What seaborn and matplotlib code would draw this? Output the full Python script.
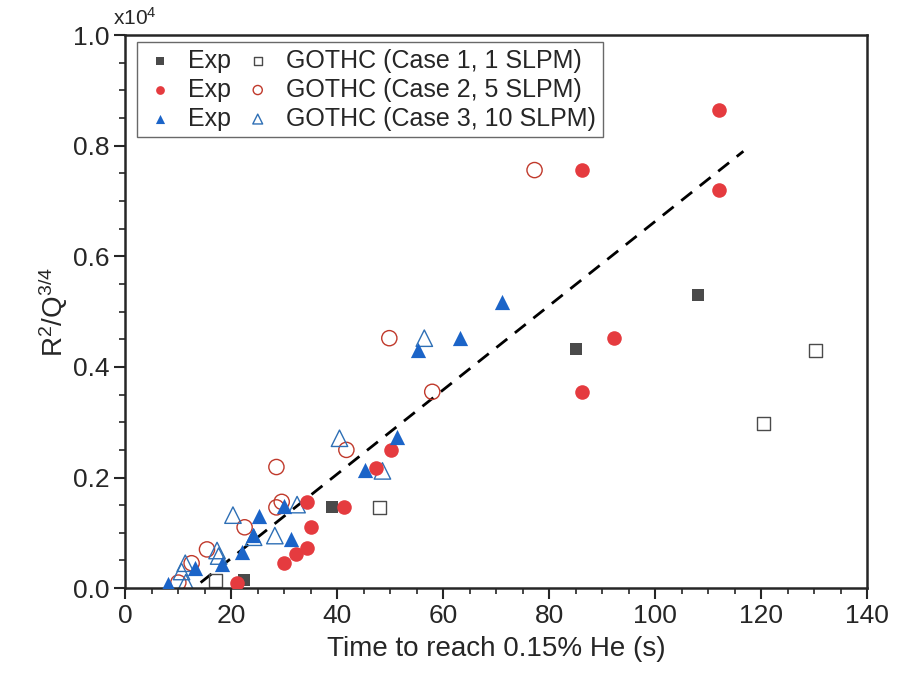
import numpy as np
import pandas as pd
import matplotlib
matplotlib.use('Agg')
import matplotlib.pyplot as plt
import seaborn as sns

# Case 1 (1 SLPM)
case1_exp_t = [22.3, 39, 85, 108]
case1_exp_r = [0.014, 0.147, 0.432, 0.53]
case1_sim_t = [17, 48, 120.4, 130.2]
case1_sim_r = [0.014, 0.146, 0.297, 0.43]

# Case 2 (5 SLPM)
case2_exp_t = [21, 30, 32.2, 34.3, 35.1, 34.2, 41.2, 47.2, 50.2, 86.2, 86.2, 92.1, 112, 112]
case2_exp_r = [0.009, 0.045, 0.061, 0.072, 0.11, 0.156, 0.146, 0.217, 0.25, 0.756, 0.354, 0.452, 0.864, 0.72]
case2_sim_t = [10, 12.5, 15.4, 22.5, 28.5, 29.5, 28.5, 41.7, 49.8, 57.9, 77.2]
case2_sim_r = [0.01, 0.045, 0.07, 0.11, 0.146, 0.156, 0.219, 0.25, 0.452, 0.355, 0.756]

# Case 3 (10 SLPM)
case3_exp_t = [8.1, 13.2, 18.3, 22.1, 24, 25.2, 30, 31.2, 45.3, 51.3, 55.3, 63.2, 71]
case3_exp_r = [0.008, 0.036, 0.044, 0.066, 0.096, 0.131, 0.148, 0.089, 0.213, 0.273, 0.43, 0.452, 0.517]
case3_sim_t = [11.4, 10.6, 11.3, 17.3, 17.6, 20.3, 24.2, 28.2, 32.4, 40.4, 48.5, 56.4]
case3_sim_r = [0.01, 0.03, 0.045, 0.068, 0.058, 0.132, 0.092, 0.095, 0.151, 0.271, 0.212, 0.452]

# dashed fit line (end points)
fit_t = [14.2, 116.6]
fit_r = [0.01, 0.79]

sns.set_style('ticks')
plt.rcParams['font.family'] = ['Liberation Sans', 'DejaVu Sans']
plt.rcParams['mathtext.default'] = 'regular'

fig, ax = plt.subplots(figsize=(9.15, 6.76), dpi=100)
fig.subplots_adjust(left=0.137, right=0.948, bottom=0.130, top=0.948)

gray = '#4a4a4a'
red = '#e53b3f'
blue = '#1b64c8'

sns.lineplot(x=fit_t, y=fit_r, ax=ax, color='black', lw=2, zorder=1)
ax.lines[0].set_dashes([5, 3.5])

exp_sets = [
    (case1_exp_t, case1_exp_r, 's', gray, 80),
    (case2_exp_t, case2_exp_r, 'o', red, 110),
    (case3_exp_t, case3_exp_r, '^', blue, 120),
]
sim_sets = [
    (case1_sim_t, case1_sim_r, 's', gray, 90, 'GOTHC (Case 1, 1 SLPM)'),
    (case2_sim_t, case2_sim_r, 'o', '#c0392b', 120, 'GOTHC (Case 2, 5 SLPM)'),
    (case3_sim_t, case3_sim_r, '^', '#2e6fb5', 140, 'GOTHC (Case 3, 10 SLPM)'),
]

handles = []
for t, r, m, c, s in exp_sets:
    sns.scatterplot(x=t, y=r, ax=ax, marker=m, color=c, s=s, linewidth=0, zorder=3)
    handles.append(ax.collections[-1])
sim_handles = []
for t, r, m, c, s, lab in sim_sets:
    sns.scatterplot(x=t, y=r, ax=ax, marker=m, s=s, facecolor='none', edgecolor=c,
                    linewidth=1.0, zorder=2)
    sim_handles.append(ax.collections[-1])

labels = ['Exp'] * 3 + [x[5] for x in sim_sets]
leg = ax.legend(handles + sim_handles, labels, ncol=2, loc='upper left',
                bbox_to_anchor=(0.016, 0.987), borderaxespad=0, fontsize=18, frameon=True,
                fancybox=False, edgecolor='#444444', markerscale=0.6, handletextpad=0.5,
                columnspacing=0.4, labelspacing=0.2, borderpad=0.25, handlelength=1.3)
leg.get_frame().set_linewidth(1.0)

ax.set_xlim(0, 140)
ax.set_ylim(0, 1.0)
ax.set_xticks(np.arange(0, 141, 20))
ax.set_yticks(np.arange(0, 1.01, 0.2))
ax.set_xticks(np.arange(0, 141, 5), minor=True)
ax.set_yticks(np.arange(0, 1.01, 0.05), minor=True)
ax.yaxis.set_major_formatter(matplotlib.ticker.FormatStrFormatter('%.1f'))
ax.tick_params(which='major', length=8, width=1.5, labelsize=19, direction='out')
ax.tick_params(which='minor', length=4.5, width=1.2, direction='out')
for sp in ax.spines.values():
    sp.set_linewidth(1.8)
    sp.set_visible(True)

ax.set_xlabel('Time to reach 0.15% He (s)', fontsize=20, labelpad=6)
ax.set_ylabel('R$^2$/Q$^{3/4}$', fontsize=20, labelpad=2)
ax.text(-0.016, 1.012, 'x10$^4$', transform=ax.transAxes, fontsize=15, ha='left', va='bottom')

fig.savefig('out.png', dpi=100)
